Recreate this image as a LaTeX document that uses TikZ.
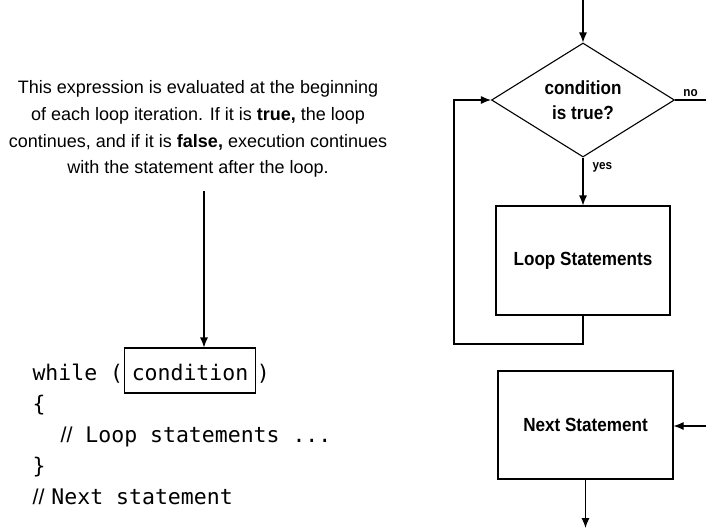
\documentclass[tikz,border=0pt]{standalone}
\usepackage{fontspec}
\setmainfont{Liberation Sans}
\setmonofont{DejaVu Sans Mono}
\newfontfamily\chartfont{Liberation Sans}[FakeStretch=0.9]
\usetikzlibrary{arrows.meta,shapes.geometric}
\newcommand\slashes{{\rmfamily//}}
\tikzset{
  >={Latex[length=10pt,width=8pt]},
  note/.style={align=center,font=\fontsize{18}{26.7}\selectfont},
  codeline/.style={anchor=base west,inner sep=0pt,font=\ttfamily\fontsize{21.5}{26}\selectfont},
  decision/.style={draw,diamond,aspect=1.6,inner sep=0pt,align=center,
    minimum width=183pt,minimum height=114pt,
    font=\chartfont\bfseries\fontsize{19}{25}\selectfont},
  block/.style={draw,inner sep=0pt,font=\chartfont\bfseries\fontsize{19}{25}\selectfont},
  edgelabel/.style={inner sep=0pt,font=\chartfont\bfseries\fontsize{13}{15}\selectfont}
}

\begin{document}
\begin{tikzpicture}[x=1pt,y=-1pt,line width=1.1pt]
  \useasboundingbox[fill=white] (0,0) rectangle (706,531);
  % left: the while statement
  \node[note] (note) at (198,129) {This expression is evaluated at the beginning\\
    of each loop iteration. If it is \textbf{true,} the loop\\
    continues, and if it is \textbf{false,} execution continues\\
    with the statement after the loop.};
  \node[codeline] (while) at (32,380) {while (};
  \node[codeline,draw,inner xsep=7.5pt,inner ysep=0pt,text height=32pt,text depth=13pt]
    (cbox) at (while.base east) {condition};
  \node[codeline] (close) at (cbox.base east) {)};
  \node[codeline] (open) at (32,411) {\{};
  \node[codeline] (body) at (60,442) {\slashes{} Loop statements ...};
  \node[codeline] (shut) at (32,473) {\}};
  \node[codeline] (after) at (32,504) {\slashes\hspace{7pt}Next statement};
  \coordinate (tip) at (204,191);
  \draw[->] (tip) -- (tip |- cbox.north);
  % right: the flowchart
  \node[decision] (cond) at (583,100) {condition\\is true?};
  \node[block,minimum width=174pt,minimum height=109pt] (loop) at (583,260.5) {Loop Statements};
  \node[block,minimum width=175pt,minimum height=108pt] (next) at (585.5,425) {Next Statement};
  \coordinate (in) at (583,0);
  \coordinate (out) at (706,100);
  \coordinate (back) at (454,344);
  \coordinate (enter) at (706,426);
  \coordinate (exit) at (586,528);
  \draw[->] (in) -- (cond.north);
  \draw[->] (cond.south) -- node[edgelabel,pos=.2,anchor=west,xshift=9pt]{yes} (loop.north);
  \draw (cond.east) -- node[edgelabel,above=3pt]{no} (out);
  \draw[->] (loop.south) |- (back) |- (cond.west);
  \draw[->] (enter) -- (enter -| next.east);
  \draw[->] (next.south) -- (next.south |- exit);
\end{tikzpicture}
\end{document}
